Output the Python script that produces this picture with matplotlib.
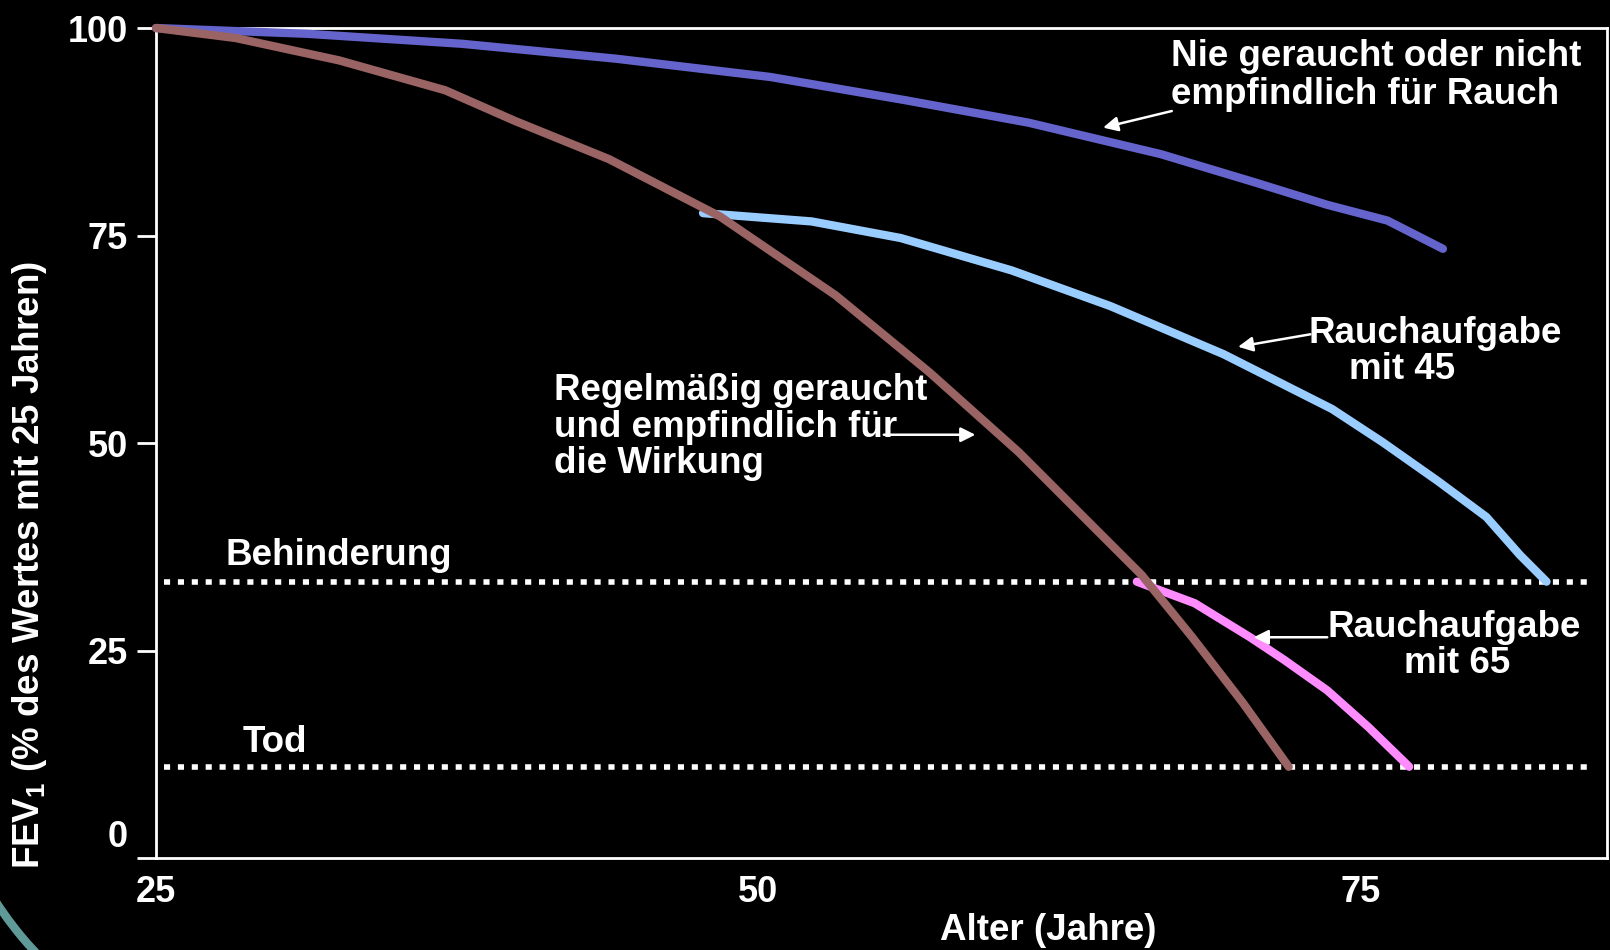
import matplotlib
matplotlib.use('Agg')
import matplotlib.pyplot as plt
from matplotlib.patches import Arc
from matplotlib.transforms import ScaledTranslation, IdentityTransform

plt.rcParams['font.family'] = ['Liberation Sans', 'DejaVu Sans']
plt.rcParams['font.weight'] = 'bold'
plt.rcParams['mathtext.fontset'] = 'custom'
plt.rcParams['mathtext.rm'] = 'Liberation Sans:bold'
plt.rcParams['mathtext.bf'] = 'Liberation Sans:bold'

# --- data (age in years, FEV1 in % of value at 25) ---
never_age = [25, 31.3, 37.7, 44.1, 50.5, 56.1, 61.2, 66.7, 70.6, 73.6, 76.1, 78.4]
never_fev = [100, 99.3, 98.1, 96.3, 94.1, 91.3, 88.6, 84.8, 81.4, 78.7, 76.8, 73.4]

smoker_age = [25, 28.3, 32.6, 37.0, 39.9, 43.8, 48.4, 53.2, 57.1, 60.8, 62.9, 65.9, 68.0, 70.1, 72.0]
smoker_fev = [100, 98.8, 96.1, 92.5, 88.8, 84.2, 77.3, 67.8, 58.5, 48.9, 42.8, 34.1, 26.6, 18.7, 11.0]

quit45_age = [47.7, 52.2, 55.9, 60.5, 64.6, 69.3, 73.8, 75.9, 78.2, 80.2, 81.6, 82.7]
quit45_fev = [77.7, 76.7, 74.7, 70.8, 66.5, 60.7, 54.1, 50.1, 45.4, 41.1, 36.5, 33.3]

quit65_age = [65.7, 68.1, 70.4, 71.8, 73.6, 75.3, 77.0]
quit65_fev = [33.3, 30.7, 26.6, 23.9, 20.2, 15.8, 11.0]

disability_level = 33.3
death_level = 11.0
ref_x = [25.35, 84.6]

xticks = [25, 50, 75]
yticks = [0, 25, 50, 75, 100]

fig = plt.figure(figsize=(16.1, 9.5), dpi=100, facecolor='black')
ax = fig.add_axes([0.0969, 0.0968, 0.9011, 0.8737], facecolor='black')

# reference levels
for lvl in (disability_level, death_level):
    ax.plot(ref_x, [lvl, lvl], color='white', lw=4, ls=(0, (1.1, 1.4)),
            dash_capstyle='butt', zorder=2)

kw = dict(lw=6, solid_capstyle='round', solid_joinstyle='round', clip_on=False, zorder=3)
ax.plot(never_age, never_fev, color='#6464cc', **kw)
ax.plot(quit45_age, quit45_fev, color='#99ccff', **kw)
ax.plot(quit65_age, quit65_fev, color='#ff8cff', **kw)
ax.plot(smoker_age, smoker_fev, color='#9a6464', **kw)

ax.set_xlim(25, 85.2)
ax.set_ylim(0, 100)
ax.set_xticks(xticks)
ax.set_yticks(yticks)
ax.tick_params(axis='x', length=0, pad=12, labelsize=26, colors='white')
ax.tick_params(axis='y', length=14, width=2, pad=6, labelsize=26, colors='white')
for s in ax.spines.values():
    s.set_color('white')
    s.set_linewidth(2)
# the "0" label sits above its tick in the original
lab0 = ax.get_yticklabels()[0]
lab0.set_transform(lab0.get_transform() + ScaledTranslation(0, 0.25, fig.dpi_scale_trans))

fig.text(0.0186, 0.405, r'FEV$_\mathregular{1}$ (% des Wertes mit 25 Jahren)', rotation=90,
         ha='center', va='center', color='white', fontsize=26.5, fontweight='bold')
fig.text(0.651, 0.021, 'Alter (Jahre)', ha='center', va='center', color='white',
         fontsize=26.5, fontweight='bold')

arrow = dict(arrowstyle='-|>', color='white', lw=1.8, mutation_scale=22, shrinkA=0, shrinkB=0)
txt = dict(color='white', fontsize=26.5, fontweight='bold')

ax.annotate('', xy=(64.3, 88.0), xytext=(67.15, 90.0), arrowprops=arrow)
ax.text(67.1, 98.7, 'Nie geraucht oder nicht\nempfindlich für Rauch', ha='left', va='top',
        linespacing=1.1, **txt)

ax.annotate('', xy=(69.9, 61.6), xytext=(72.9, 63.1), arrowprops=arrow)
ax.text(78.1, 65.3, 'Rauchaufgabe', ha='center', va='top', **txt)
ax.text(76.7, 61.0, 'mit 45', ha='center', va='top', **txt)

ax.annotate('', xy=(70.55, 26.6), xytext=(73.6, 26.6), arrowprops=arrow)
ax.text(78.85, 29.9, 'Rauchaufgabe', ha='center', va='top', **txt)
ax.text(79.0, 25.5, 'mit 65', ha='center', va='top', **txt)

ax.annotate('', xy=(59.0, 51.0), xytext=(55.2, 51.0), arrowprops=arrow)
ax.text(41.5, 58.4, 'Regelmäßig geraucht\nund empfindlich für\ndie Wirkung', ha='left', va='top',
        linespacing=1.05, **txt)

ax.text(27.9, 35.3, 'Behinderung', ha='left', va='baseline', **txt)
ax.text(28.6, 12.8, 'Tod', ha='left', va='baseline', **txt)

# teal decorative arc in the lower left corner
fig.patches.append(Arc((298, 244), 720, 720, theta1=200, theta2=240, color='#5f9a98', lw=6,
                       transform=IdentityTransform(), figure=fig))

fig.savefig('out.png', dpi=100, facecolor='black')
